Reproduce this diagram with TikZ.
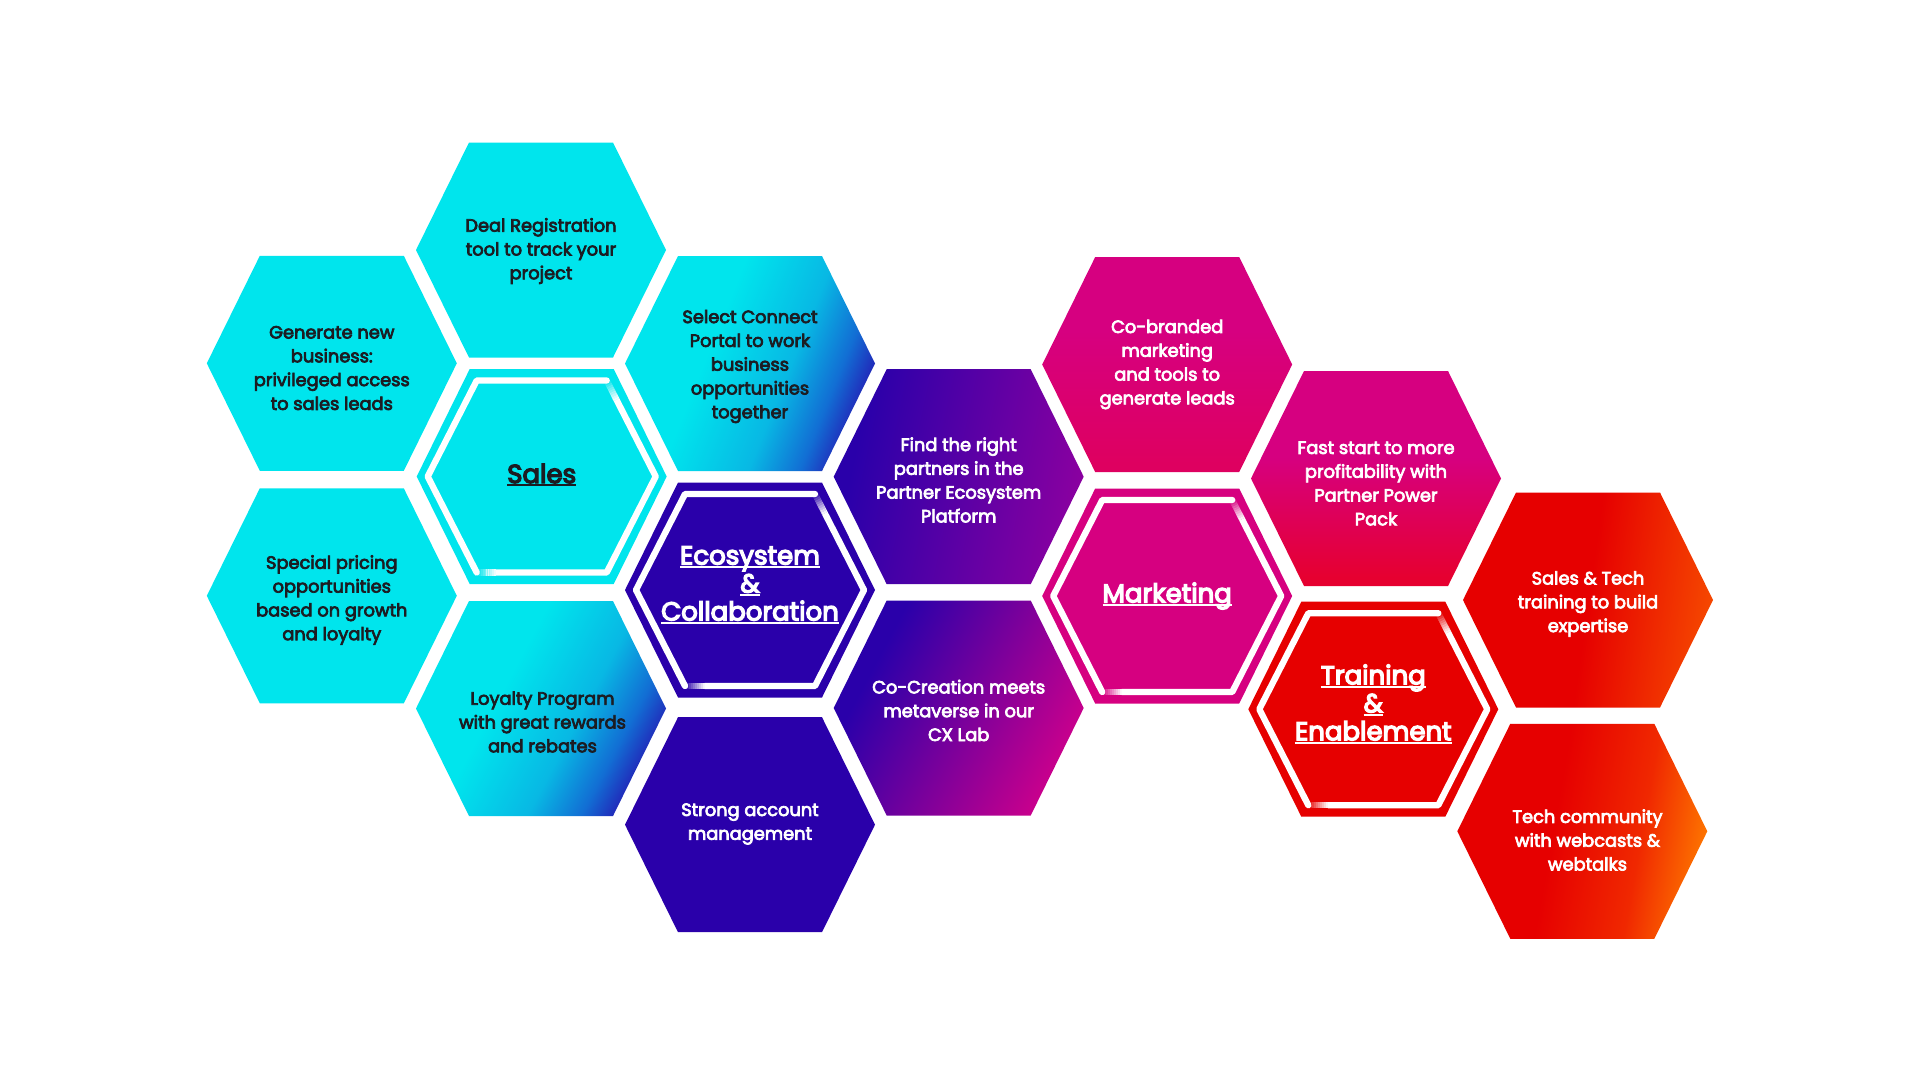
\documentclass[tikz,border=0pt]{standalone}
\usepackage{fontspec}
\setmainfont{Poppins}
\newfontfamily\hexfont{Poppins}[FakeBold=4]
\newfontfamily\titlefont{Poppins}[FakeBold=5]
\usetikzlibrary{calc}

\definecolor{hcyan}{RGB}{0,229,237}
\definecolor{hcyanb}{RGB}{8,184,228}
\definecolor{hind}{RGB}{42,0,170}
\definecolor{hblue}{RGB}{18,110,212}
\definecolor{hmag}{RGB}{214,0,128}
\definecolor{hred}{RGB}{230,0,0}
\definecolor{hpurp}{RGB}{138,0,160}
\definecolor{hmagb}{RGB}{204,0,140}
\definecolor{hredm}{RGB}{230,0,48}
\definecolor{hredl}{RGB}{222,0,96}
\definecolor{horng}{RGB}{246,74,0}
\definecolor{hredo}{RGB}{240,40,0}
\definecolor{horngb}{RGB}{255,126,0}
\definecolor{htext}{RGB}{28,28,34}

\pgfdeclarehorizontalshading{shCyanInd}{100bp}{color(0bp)=(hcyan); color(41bp)=(hcyan); color(58bp)=(hcyanb); color(68bp)=(hblue); color(78bp)=(hind); color(100bp)=(hind)}
\pgfdeclarehorizontalshading{shIndPurp}{100bp}{color(0bp)=(hind); color(28bp)=(hind); color(75bp)=(hpurp); color(100bp)=(hpurp)}
\pgfdeclarehorizontalshading{shIndMag}{100bp}{color(0bp)=(hind); color(30bp)=(hind); color(75bp)=(hmagb); color(100bp)=(hmagb)}
\pgfdeclarehorizontalshading{shRedOr}{100bp}{color(0bp)=(hred); color(50bp)=(hred); color(76bp)=(horng); color(100bp)=(horng)}
\pgfdeclarehorizontalshading{shRedOrB}{100bp}{color(0bp)=(hred); color(44bp)=(hred); color(62bp)=(hredo); color(77bp)=(horngb); color(100bp)=(horngb)}
\pgfdeclareverticalshading{shMagRed}{100bp}{color(0bp)=(hredm); color(27bp)=(hredm); color(55bp)=(hmag); color(100bp)=(hmag)}
\pgfdeclareverticalshading{shMagRedL}{100bp}{color(0bp)=(hredl); color(27bp)=(hredl); color(58bp)=(hmag); color(100bp)=(hmag)}

\newcommand\hexshape[2]{\path[#2] ($(#1)+(-125,0)$) -- ($(#1)+(-72,-107.5)$) -- ($(#1)+(72,-107.5)$) -- ($(#1)+(125,0)$) -- ($(#1)+(72,107.5)$) -- ($(#1)+(-72,107.5)$) -- cycle;}

\newcommand\hexring[1]{%
\begin{scope}[shift={(#1)}]
\draw[ringline, line cap=round, line join=round] (-65,96) -- (-114,0) -- (-65,-96) -- (65,-96);
\draw[ringline, line join=round] ($(65,-96)!0.2!(114,0)$) -- (114,0) -- (65,96) -- ($(65,96)!0.85!(-65,96)$);
\foreach \i in {0,...,9}{%
 \pgfmathsetmacro\ta{0.02*\i}\pgfmathsetmacro\tb{0.02*\i+0.021}\pgfmathsetmacro\op{(\i+0.5)/10}%
 \draw[ringline, opacity=\op] ($(65,-96)!\ta!(114,0)$) -- ($(65,-96)!\tb!(114,0)$);
 \pgfmathsetmacro\ua{1-0.015*\i}\pgfmathsetmacro\ub{1-0.015*\i-0.016}%
 \draw[ringline, opacity=\op] ($(65,96)!\ua!(-65,96)$) -- ($(65,96)!\ub!(-65,96)$);
}
\end{scope}}

\newcommand\hexul[1]{\setbox0=\hbox{#1}\rlap{\rule[-3.2pt]{\wd0}{1.8pt}}\box0}

\begin{document}
\begin{tikzpicture}[x=1pt,y=-1pt,
  bodytext/.style={align=center, inner sep=0pt, font=\hexfont\fontsize{17.8}{23.8}\selectfont},
  titletext/.style={align=center, inner sep=0pt, font=\titlefont\fontsize{26}{28}\selectfont},
  ringline/.style={white, line width=6.3pt}]
\fill[white] (0,0) rectangle (1920,1080);
\useasboundingbox (0,0) rectangle (1920,1080);

% centres
\coordinate (gen) at (331.8,363.3);
\coordinate (spec) at (331.8,595.8);
\coordinate (deal) at (541,250);
\coordinate (sales) at (541.7,476.5);
\coordinate (loyal) at (541,708.5);
\coordinate (select) at (750,363.5);
\coordinate (eco) at (750,590);
\coordinate (strong) at (750,824.7);
\coordinate (find) at (958.7,476.7);
\coordinate (cocre) at (958.7,708);
\coordinate (cobrand) at (1167.2,364.5);
\coordinate (mkt) at (1167.2,596);
\coordinate (fast) at (1376,478.5);
\coordinate (train) at (1373.3,709.2);
\coordinate (st) at (1588,600);
\coordinate (tc) at (1582.3,831.3);

% hexagons
\hexshape{gen}{fill=hcyan}
\hexshape{spec}{fill=hcyan}
\hexshape{deal}{fill=hcyan}
\hexshape{sales}{fill=hcyan}
\hexshape{loyal}{shade, shading=shCyanInd, shading angle=-28}
\hexshape{select}{shade, shading=shCyanInd, shading angle=-22}
\hexshape{eco}{fill=hind}
\hexshape{strong}{fill=hind}
\hexshape{find}{shade, shading=shIndPurp, shading angle=-12}
\hexshape{cocre}{shade, shading=shIndMag, shading angle=-28}
\hexshape{cobrand}{shade, shading=shMagRedL}
\hexshape{mkt}{fill=hmag}
\hexshape{fast}{shade, shading=shMagRed}
\hexshape{train}{fill=hred}
\hexshape{st}{shade, shading=shRedOr, shading angle=-8}
\hexshape{tc}{shade, shading=shRedOrB, shading angle=-10}

% rings of the four main hexagons
\hexring{sales}
\hexring{eco}
\hexring{mkt}
\hexring{train}

% texts
\node[bodytext, text=htext] (tgen) at (331.8,368) {Generate new\\business:\\privileged access\\to sales leads};
\node[bodytext, text=htext] (tspec) at (331.8,600) {Special pricing\\opportunities\\based on growth\\and loyalty};
\node[bodytext, text=htext] (tdeal) at (541,251) {Deal Registration\\tool to track your\\project};
\node[bodytext, text=htext] (tloyal) at (542.5,722) {Loyalty Program\\with great rewards\\and rebates};
\node[bodytext, text=htext] (tselect) at (750,366.5) {Select Connect\\Portal to work\\business\\opportunities\\together};
\node[bodytext, text=white] (tstrong) at (750,824) {Strong account\\management};
\node[bodytext, text=white] (tfind) at (958.7,480) {Find the right\\partners in the\\Partner Ecosystem\\Platform};
\node[bodytext, text=white] (tcocre) at (958.7,710.5) {Co-Creation meets\\metaverse in our\\CX Lab};
\node[bodytext, text=white] (tcobrand) at (1167.2,364.5) {Co-branded\\marketing\\and tools to\\generate leads};
\node[bodytext, text=white] (tfast) at (1376,483.5) {Fast start to more\\profitability with\\Partner Power\\Pack};
\node[bodytext, text=white] (tst) at (1588,604) {Sales \& Tech\\training to build\\expertise};
\node[bodytext, text=white] (ttc) at (1587.5,840) {Tech community\\with webcasts \&\\webtalks};

\node[titletext, text=htext] (tsales) at (541.7,475) {\hexul{Sales}};
\node[titletext, text=white] (teco) at (750,585) {\hexul{Ecosystem}\\\hexul{\&}\\\hexul{Collaboration}};
\node[titletext, text=white] (tmkt) at (1167.2,596) {\hexul{Marketing}};
\node[titletext, text=white] (ttrain) at (1373.3,704) {\hexul{Training}\\\hexul{\&}\\\hexul{Enablement}};
\end{tikzpicture}
\end{document}
